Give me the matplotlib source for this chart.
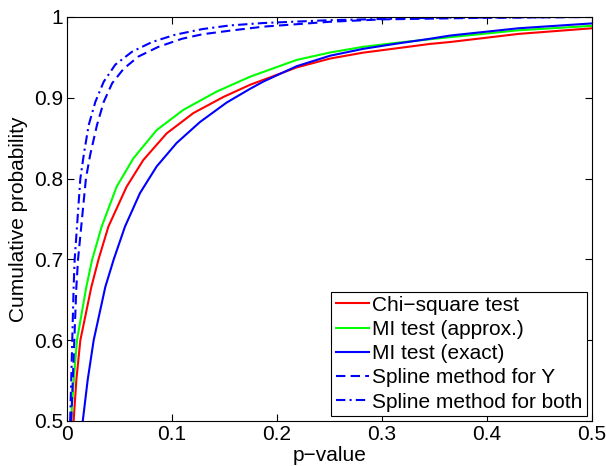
import matplotlib
matplotlib.use("Agg")
import matplotlib.pyplot as plt

plt.rcParams["font.family"] = ["Liberation Sans", "DejaVu Sans"]
plt.rcParams["font.size"] = 15

# p-value (x) vs cumulative probability (y)
chi_p = [0.0063, 0.0089, 0.0127, 0.0232, 0.0300, 0.0394, 0.0568, 0.0727, 0.0950, 0.1203,
         0.1490, 0.1743, 0.2187, 0.2505, 0.2820, 0.3140, 0.3457, 0.3650, 0.4300, 0.5000]
chi_c = [0.500, 0.551, 0.600, 0.666, 0.700, 0.7405, 0.790, 0.823, 0.856, 0.881,
         0.901, 0.916, 0.9375, 0.9485, 0.9558, 0.9612, 0.9666, 0.969, 0.979, 0.986]

mi_approx_p = [0.0038, 0.0064, 0.0095, 0.0184, 0.0240, 0.0330, 0.0473, 0.0632, 0.0854, 0.1108,
               0.1425, 0.1743, 0.2187, 0.2505, 0.2820, 0.3140, 0.3457, 0.3650, 0.4300, 0.5000]
mi_approx_c = [0.500, 0.551, 0.600, 0.666, 0.700, 0.7405, 0.790, 0.825, 0.860, 0.885,
               0.9076, 0.926, 0.9468, 0.956, 0.963, 0.968, 0.9724, 0.975, 0.9835, 0.989]

mi_exact_p = [0.0150, 0.0197, 0.0254, 0.0365, 0.0445, 0.0552, 0.0695, 0.0854, 0.1044, 0.1267,
              0.1520, 0.1743, 0.1870, 0.2187, 0.2505, 0.2820, 0.3140, 0.3457, 0.3650, 0.4300,
              0.5000]
mi_exact_c = [0.500, 0.551, 0.600, 0.666, 0.700, 0.7405, 0.782, 0.815, 0.844, 0.870,
              0.894, 0.911, 0.920, 0.939, 0.952, 0.9605, 0.967, 0.973, 0.977, 0.986,
              0.992]

spline_y_p = [0.0040, 0.0089, 0.0105, 0.0180, 0.0220, 0.0285, 0.0350, 0.0430, 0.0540, 0.0680,
              0.0870, 0.1095, 0.1290, 0.1550, 0.1870, 0.2500, 0.3000, 0.4000, 0.5000]
spline_y_c = [0.500, 0.666, 0.700, 0.800, 0.829, 0.866, 0.895, 0.918, 0.936, 0.951,
              0.963, 0.973, 0.9786, 0.983, 0.988, 0.994, 0.997, 0.999, 1.000]

spline_both_p = [0.0030, 0.0063, 0.0073, 0.0127, 0.0159, 0.0206, 0.0270, 0.0350, 0.0460, 0.0620,
                 0.0810, 0.1030, 0.1290, 0.1550, 0.1870, 0.2500, 0.3500, 0.5000]
spline_both_c = [0.500, 0.666, 0.700, 0.800, 0.829, 0.866, 0.895, 0.920, 0.941, 0.957,
                 0.969, 0.978, 0.985, 0.9895, 0.9925, 0.996, 0.999, 1.000]

x_ticks = [0, 0.1, 0.2, 0.3, 0.4, 0.5]
y_ticks = [0.5, 0.6, 0.7, 0.8, 0.9, 1.0]
x_labels = ["0", "0.1", "0.2", "0.3", "0.4", "0.5"]
y_labels = ["0.5", "0.6", "0.7", "0.8", "0.9", "1"]

fig = plt.figure(figsize=(6.06, 4.66), dpi=100)
ax = fig.add_axes([0.1106, 0.0966, 0.866, 0.867])

lw = 1.5
ax.plot(chi_p, chi_c, color="#ff0000", lw=lw, label="Chi\u2212square test")
ax.plot(mi_approx_p, mi_approx_c, color="#00ff00", lw=lw, label="MI test (approx.)")
ax.plot(mi_exact_p, mi_exact_c, color="#0000ff", lw=lw, label="MI test (exact)")
ax.plot(spline_y_p, spline_y_c, color="#0000ff", lw=lw, ls=(0, (4.5, 2.5)),
        label="Spline method for Y")
ax.plot(spline_both_p, spline_both_c, color="#0000ff", lw=lw, ls=(0, (4.5, 2, 1, 2)),
        label="Spline method for both")

ax.set_xlim(0, 0.5)
ax.set_ylim(0.5, 1.0)
ax.set_xticks(x_ticks, x_labels)
ax.set_yticks(y_ticks, y_labels)
ax.tick_params(direction="in", length=5, width=0.8, top=True, right=True, pad=3)
for s in ax.spines.values():
    s.set_linewidth(0.8)

ax.set_xlabel("p\u2212value", labelpad=1)
ax.set_ylabel("Cumulative probability", labelpad=4)

leg = ax.legend(loc="lower right", fancybox=False, edgecolor="black", framealpha=1,
                handlelength=1.6, handletextpad=0.15, borderpad=0.2, labelspacing=0.25,
                borderaxespad=0.25, fontsize=15)
leg.get_frame().set_linewidth(0.8)

fig.savefig("out.png", dpi=100)
